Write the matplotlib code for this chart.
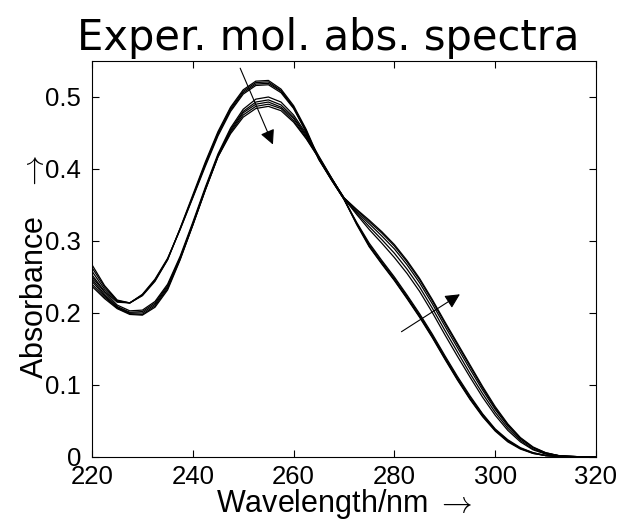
import numpy as np
import matplotlib.pyplot as plt

plt.rcParams['mathtext.fontset'] = 'cm'

# wavelength grid (nm) and spectra
wavelength = np.arange(220, 320.1, 2.5)

spec_a1 = [0.267, 0.238, 0.218, 0.214, 0.224, 0.244, 0.274, 0.318, 0.364, 0.410, 0.452, 0.486, 0.510, 0.522, 0.523,
           0.511, 0.488, 0.455, 0.415, 0.386, 0.358, 0.323, 0.292, 0.268, 0.245, 0.220, 0.194, 0.166, 0.136, 0.107,
           0.080, 0.056, 0.036, 0.021, 0.011, 0.005, 0.002, 0.001, 0.000, 0.000, 0.000]
spec_a2 = [0.263, 0.236, 0.217, 0.214, 0.225, 0.245, 0.274, 0.317, 0.362, 0.408, 0.450, 0.484, 0.508, 0.520, 0.521,
           0.509, 0.486, 0.453, 0.414, 0.385, 0.358, 0.324, 0.293, 0.269, 0.246, 0.221, 0.195, 0.167, 0.137, 0.108,
           0.081, 0.057, 0.037, 0.022, 0.012, 0.005, 0.002, 0.001, 0.000, 0.000, 0.000]
spec_a3 = [0.258, 0.233, 0.216, 0.214, 0.225, 0.246, 0.275, 0.317, 0.361, 0.406, 0.448, 0.482, 0.506, 0.518, 0.519,
           0.508, 0.485, 0.452, 0.414, 0.385, 0.358, 0.325, 0.295, 0.271, 0.248, 0.223, 0.197, 0.169, 0.139, 0.110,
           0.083, 0.059, 0.038, 0.023, 0.012, 0.006, 0.002, 0.001, 0.000, 0.000, 0.000]
spec_a4 = [0.253, 0.230, 0.215, 0.214, 0.226, 0.247, 0.276, 0.316, 0.360, 0.404, 0.446, 0.480, 0.504, 0.516, 0.517,
           0.506, 0.484, 0.451, 0.413, 0.385, 0.358, 0.326, 0.297, 0.273, 0.250, 0.225, 0.199, 0.171, 0.141, 0.112,
           0.085, 0.060, 0.039, 0.024, 0.013, 0.006, 0.002, 0.001, 0.000, 0.000, 0.000]
spec_b1 = [0.250, 0.229, 0.211, 0.203, 0.204, 0.216, 0.240, 0.279, 0.326, 0.375, 0.421, 0.457, 0.483, 0.497, 0.500,
           0.493, 0.475, 0.449, 0.418, 0.388, 0.359, 0.337, 0.316, 0.297, 0.277, 0.255, 0.230, 0.201, 0.170, 0.140,
           0.111, 0.083, 0.058, 0.037, 0.021, 0.010, 0.004, 0.001, 0.000, 0.000, 0.000]
spec_b2 = [0.247, 0.226, 0.209, 0.201, 0.202, 0.214, 0.238, 0.277, 0.324, 0.373, 0.419, 0.455, 0.480, 0.493, 0.496,
           0.489, 0.472, 0.447, 0.417, 0.388, 0.359, 0.339, 0.320, 0.302, 0.283, 0.261, 0.236, 0.207, 0.176, 0.146,
           0.116, 0.088, 0.062, 0.040, 0.023, 0.011, 0.005, 0.002, 0.000, 0.000, 0.000]
spec_b3 = [0.244, 0.224, 0.208, 0.200, 0.200, 0.212, 0.236, 0.276, 0.323, 0.372, 0.418, 0.453, 0.478, 0.490, 0.493,
           0.486, 0.470, 0.445, 0.416, 0.387, 0.360, 0.341, 0.324, 0.307, 0.289, 0.267, 0.242, 0.213, 0.182, 0.152,
           0.122, 0.093, 0.066, 0.043, 0.025, 0.013, 0.005, 0.002, 0.001, 0.000, 0.000]
spec_b4 = [0.240, 0.222, 0.207, 0.199, 0.198, 0.210, 0.234, 0.275, 0.322, 0.371, 0.417, 0.451, 0.475, 0.487, 0.490,
           0.484, 0.467, 0.443, 0.415, 0.387, 0.360, 0.343, 0.327, 0.311, 0.293, 0.271, 0.246, 0.217, 0.186, 0.156,
           0.126, 0.096, 0.068, 0.045, 0.026, 0.013, 0.006, 0.002, 0.001, 0.000, 0.000]
spec_b5 = [0.237, 0.220, 0.206, 0.198, 0.197, 0.208, 0.232, 0.274, 0.322, 0.371, 0.417, 0.449, 0.472, 0.484, 0.487,
           0.481, 0.465, 0.442, 0.415, 0.387, 0.360, 0.344, 0.329, 0.313, 0.295, 0.273, 0.248, 0.219, 0.188, 0.158,
           0.128, 0.098, 0.070, 0.046, 0.027, 0.014, 0.006, 0.002, 0.001, 0.000, 0.000]
spectra = [spec_a1, spec_a2, spec_a3, spec_a4, spec_b1, spec_b2, spec_b3, spec_b4, spec_b5]

x_ticks = [220, 240, 260, 280, 300, 320]
y_ticks = [0, 0.1, 0.2, 0.3, 0.4, 0.5]
y_tick_labels = ['0', '0.1', '0.2', '0.3', '0.4', '0.5']

# arrows (tail, head) in data coordinates
arrow_peak = ((249.4, 0.540), (255.9, 0.434))
arrow_shoulder = ((281.4, 0.174), (293.0, 0.226))

fig = plt.figure(figsize=(6.22, 5.2), dpi=100)
ax = fig.add_axes([92 / 622, 1 - 457 / 520, 504 / 622, 396 / 520])

for s in spectra:
    ax.plot(wavelength, s, color='black', linewidth=0.9)

for tail, head in [arrow_peak, arrow_shoulder]:
    ax.annotate('', xy=head, xytext=tail,
                arrowprops=dict(arrowstyle='-|>', color='black', lw=0.8,
                                mutation_scale=22, shrinkA=0, shrinkB=0))

ax.set_xlim(220, 320)
ax.set_ylim(0, 0.55)
ax.set_xticks(x_ticks)
ax.set_xticklabels([str(t) for t in x_ticks])
ax.set_yticks(y_ticks)
ax.set_yticklabels(y_tick_labels)
ax.tick_params(direction='in', length=5, width=0.8, top=True, right=True,
               labelsize=18.5)
ax.tick_params(axis='x', pad=6)
ax.tick_params(axis='y', pad=8)
for lbl in ax.get_xticklabels() + ax.get_yticklabels():
    lbl.set_family(['Liberation Sans', 'DejaVu Sans'])
for sp in ax.spines.values():
    sp.set_linewidth(0.8)

ax.set_xlabel('Wavelength/nm $\\rightarrow$', fontsize=22,
              family=['Liberation Sans', 'DejaVu Sans'], labelpad=-2)
ax.set_ylabel('Absorbance   $\\rightarrow$', fontsize=22,
              family=['Liberation Sans', 'DejaVu Sans'])
ax.yaxis.set_label_coords(-0.083, 0.48)

fig.text(328 / 622, 1 - 50 / 520, 'Exper. mol. abs. spectra', fontsize=30,
         family='DejaVu Sans', ha='center', va='baseline')

fig.savefig('out.png', dpi=100)
